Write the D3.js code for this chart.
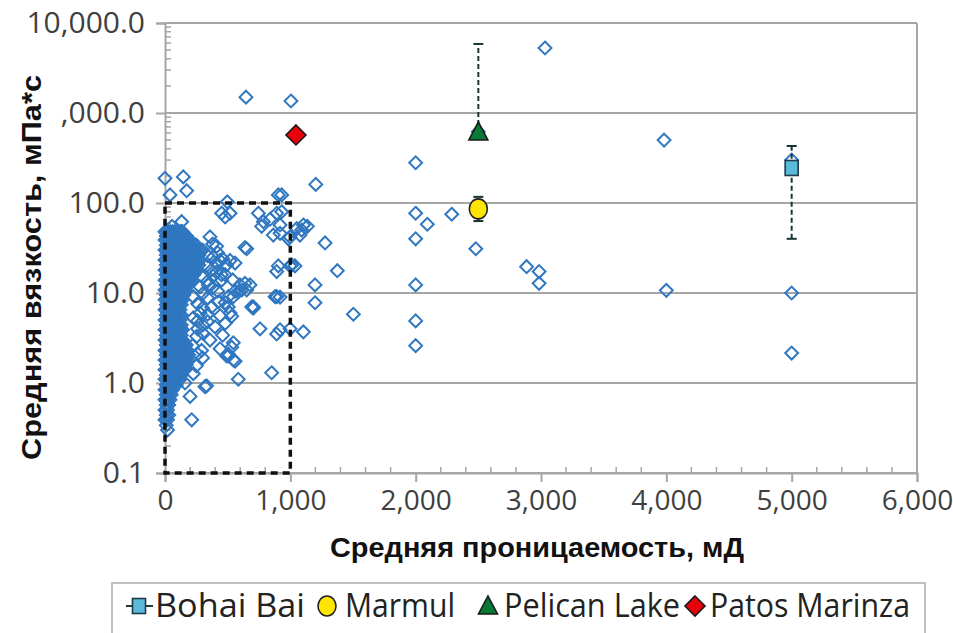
<!DOCTYPE html>
<html><head><meta charset="utf-8">
<script src="https://cdn.jsdelivr.net/npm/d3@7"></script>
<style>body{margin:0;background:#fff;overflow:hidden}</style>
</head><body>
<svg id="chart" width="953" height="633"></svg>
<script>
// ---------- DATA ----------
const xTickValues = [0, 1000, 2000, 3000, 4000, 5000, 6000];
const yTickValues = [0.1, 1, 10, 100, 1000, 10000];
const xTitle = "Средняя проницаемость, мД";
const yTitle = "Средняя вязкость, мПа*с";
const legendNames = ["Bohai Bai", "Marmul", "Pelican Lake", "Patos Marinza"];

// dense cluster near the origin: viscosity rows, each with the permeabilities read in that row
const clusterVisc = [48, 43, 38.8, 34, 30, 26.5, 23.3, 20.5, 18, 16, 13.9, 12.3, 10.8, 9.5, 8.4, 7.4, 6.5, 5.7, 5.0, 4.4,
  3.9, 3.4, 3.0, 2.65, 2.3, 2.05, 1.8, 1.6, 1.4, 1.23, 1.1, 0.95, 0.84, 0.74, 0.65, 0.57, 0.5, 0.44, 0.39, 0.34, 0.30];
const clusterPerm = [
  [0,20,40,60,80,100,120,140],
  [10,30,50,70,90,110,130,150,170],
  [0,20,40,60,80,100,120,140,160,180,200],
  [10,30,50,70,90,110,130,150,170,190,210,230,250],
  [0,20,40,60,80,100,120,140,160,180,200,220,240,260,280],
  [10,30,50,70,90,110,130,150,170,190,210,230,250,270],
  [0,20,40,60,80,100,120,140,160,180,200,220,240,260,280],
  [10,30,50,70,90,110,130,150,170,190,210,230,250,270],
  [0,20,40,60,80,100,120,140,160,180,200,220,240,260],
  [10,30,50,70,90,110,130,150,170,190,210,230],
  [0,20,40,60,80,100,120,140,160,180,200,220],
  [10,30,50,70,90,110,130,150,170,190],
  [0,20,40,60,80,100,120,140,160],
  [10,30,50,70,90,110,130,150],
  [0,20,40,60,80,100,120,140],
  [10,30,50,70,90,110,130],
  [0,20,40,60,80,100,120],
  [10,30,50,70,90,110,130],
  [0,20,40,60,80,100,120],
  [10,30,50,70,90,110,130],
  [0,20,40,60,80,100,120,140],
  [10,30,50,70,90,110,130],
  [0,20,40,60,80,100,120,140],
  [10,30,50,70,90,110,130,150,170],
  [0,20,40,60,80,100,120,140,160,180],
  [10,30,50,70,90,110,130,150,170,190],
  [0,20,40,60,80,100,120,140,160,180],
  [10,30,50,70,90,110,130,150,170],
  [0,20,40,60,80,100,120,140,160],
  [10,30,50,70,90,110,130],
  [0,20,40,60,80,100,120],
  [10,30,50,70,90],
  [0,20,40,60],
  [10,30,50],
  [0,20,40],
  [10,30],
  [0,20],
  [10,30],
  [0,20],
  [10],
  [20]
];

// scattered fields [permeability mD, viscosity mPa*s]
const fieldPoints = [
  [0,188],[146,195],[40,123],[173,137],[497,103],[904,123],[452,77],[519,77],[480,70],[745,77],[785,62],[838,66],
  [891,77],[771,55],[864,44],[918,57],[133,62],[133,48],[56,55],[359,42],[412,33],[385,25],[439,23],[519,23],
  [638,32],[652,31],[997,42],[1037,20],[904,20],
  [1203,161],[931,123],[931,80],[1136,55],[1077,44],[984,40],[918,46],[1277,36],[998,20],[1375,17.7],[1197,12.3],
  [1197,7.8],[918,9],[1503,5.8],[998,4.0],[1104,3.7],[918,3.9],[1091,50],[1051,52],[1104,57],[1011,20.5],[878,9.1],[891,17.3],
  [2000,280],[2000,77],[2093,58],[2288,75],[2000,40],[2480,31],[2885,19.6],[2985,17.3],[2985,12.8],[2000,12.3],
  [2000,4.9],[2000,2.6],[3032,5280],[3982,500],[4000,10.7],[5000,10],[5000,2.15],[5000,300],[2500,620],
  [646,1500],[1005,1360],
  [412,21.5],[492,20.5],[559,21.5],[385,15.5],[346,12.3],[452,13.9],[638,12.8],[585,10.3],[505,9.1],[692,7.0],
  [425,8.0],[519,6.0],[372,7.0],[279,6.0],[226,9.1],[279,11.7],[598,12.3],[652,10.8],[545,9.1],[891,9.1],[705,7.0],
  [758,4.0],[891,3.5],[399,4.2],[359,3.0],[439,2.4],[292,2.3],[505,2.0],[545,2.8],[253,3.3],[226,5.3],[492,2.0],
  [559,1.75],[226,1.27],[332,0.93],[585,1.1],[851,1.3],[160,1.0],[200,0.71],[213,0.39],[532,5.5],[505,7.0],
  [705,6.8],[612,10.8],[678,12.3],[532,2.5],[545,1.8],[505,2.1],[319,0.91],
  [300,30],[340,26],[380,35],[420,28],[460,24],[330,20],[370,18],[410,17],[450,16],[300,15],[340,13.5],[380,11.5],
  [420,10.5],[300,9.8],[340,8.8],[260,7.6],[300,6.8],[340,5.8],[260,4.9],[300,4.4],[340,4.8],[260,4.0],[300,3.6],
  [220,2.6],[260,2.1],[300,1.9],[250,1.55],[480,16],[540,14],[560,10.5],[480,7.8],[440,5.6],[480,4.6],[460,3.4]
];

// named fields: permeability, viscosity, error low, error high
const bohaiBai = {perm: 5000, visc: 245, low: 40, high: 430};
const marmul = {perm: 2500, visc: 86, low: 63, high: 117};
const pelicanLake = {perm: 2500, visc: 600, low: 600, high: 5850};
const patosMarinza = {perm: 1045, visc: 570};

// ---------- CHART ----------
const svg = d3.select("#chart");
const mLeft = 165, mRight = 917, mTop = 23, mBottom = 473;
const x = d3.scaleLinear().domain([0, 6000]).range([mLeft, mRight]);
const y = d3.scaleLog().domain([0.1, 10000]).range([mBottom, mTop]);

const gridColor = "#a6a6a6";
const tickFont = "'Open Sans', sans-serif";

// gridlines
svg.append("g").selectAll("line").data(yTickValues).join("line")
  .attr("x1", mLeft).attr("x2", mRight).attr("y1", d => y(d)).attr("y2", d => y(d))
  .attr("stroke", gridColor).attr("stroke-width", 2);
svg.append("line").attr("x1", mRight).attr("x2", mRight).attr("y1", mTop).attr("y2", mBottom)
  .attr("stroke", gridColor).attr("stroke-width", 2);

// minor ticks
const yMinor = [];
[0.1, 1, 10, 100, 1000].forEach(d => { for (let k = 2; k <= 9; k++) yMinor.push(d * k); });
svg.append("g").selectAll("line").data(yMinor).join("line")
  .attr("x1", mLeft).attr("x2", mLeft + 6).attr("y1", d => y(d)).attr("y2", d => y(d))
  .attr("stroke", gridColor).attr("stroke-width", 1.5);
const xMinor = d3.range(200, 6000, 200).filter(v => v % 1000 !== 0);
svg.append("g").selectAll("line").data(xMinor).join("line")
  .attr("x1", d => x(d)).attr("x2", d => x(d)).attr("y1", mBottom).attr("y2", mBottom - 6)
  .attr("stroke", gridColor).attr("stroke-width", 1.5);

// axes
const xAxis = svg.append("g").attr("transform", `translate(0,${mBottom})`)
  .call(d3.axisBottom(x).tickValues(xTickValues).tickFormat(d3.format(",")).tickSizeOuter(0).tickSize(9).tickPadding(8));
const yAxis = svg.append("g").attr("transform", `translate(${mLeft},0)`)
  .call(d3.axisLeft(y).tickValues(yTickValues).tickFormat(d3.format(",.1f")).tickSizeOuter(0).tickSize(9).tickPadding(11));
[xAxis, yAxis].forEach(a => {
  a.select(".domain").attr("stroke", gridColor).attr("stroke-width", 2);
  a.selectAll(".tick line").attr("stroke", gridColor).attr("stroke-width", 2);
  a.selectAll(".tick text").attr("fill", "#3f3f3f").attr("font-family", tickFont).attr("font-size", 30);
});
xAxis.selectAll(".tick text").attr("font-size", 28);

// diamonds
const diamond = d3.symbol().type(d3.symbolDiamond2).size(105)();
const clusterPoints = [];
clusterVisc.forEach((v, i) => clusterPerm[i].forEach(p => clusterPoints.push([p, v])));
const allPoints = clusterPoints.concat(fieldPoints);
svg.append("g").selectAll("path").data(allPoints).join("path")
  .attr("d", diamond)
  .attr("transform", d => `translate(${x(d[0])},${y(d[1])})`)
  .attr("fill", "none").attr("stroke", "#2f77c0").attr("stroke-width", 2);

// dashed box 0..1000 mD, 0.1..100 mPa*s
svg.append("rect").attr("x", x(0)).attr("y", y(100))
  .attr("width", x(1000) - x(0)).attr("height", y(0.1) - y(100))
  .attr("fill", "none").attr("stroke", "#111").attr("stroke-width", 3.5).attr("stroke-dasharray", "7,5");

// error bars
function errBar(f) {
  const g = svg.append("g");
  g.append("line").attr("x1", x(f.perm)).attr("x2", x(f.perm)).attr("y1", y(f.low)).attr("y2", y(f.high))
    .attr("stroke", "#1b3535").attr("stroke-width", 2).attr("stroke-dasharray", "5,3");
  [f.low, f.high].forEach(v => {
    if (v === f.visc) return;
    g.append("line").attr("x1", x(f.perm) - 5).attr("x2", x(f.perm) + 5).attr("y1", y(v)).attr("y2", y(v))
      .attr("stroke", "#1b3535").attr("stroke-width", 2);
  });
}
[bohaiBai, marmul, pelicanLake].forEach(errBar);

// special markers
function square(g, cx, cy) {
  g.append("rect").attr("x", cx - 6.5).attr("y", cy - 7.5).attr("width", 13).attr("height", 15)
    .attr("fill", "#5bbad8").attr("stroke", "#1f3a4a").attr("stroke-width", 1.6);
}
function circle(g, cx, cy) {
  g.append("ellipse").attr("cx", cx).attr("cy", cy).attr("rx", 9).attr("ry", 10)
    .attr("fill", "#ffe600").attr("stroke", "#222").attr("stroke-width", 1.6);
}
function triangle(g, cx, cy) {
  g.append("path").attr("d", `M${cx},${cy - 11}L${cx + 9.5},${cy + 7}L${cx - 9.5},${cy + 7}Z`)
    .attr("fill", "#087a35").attr("stroke", "#1a1a1a").attr("stroke-width", 1.6);
}
function redDiamond(g, cx, cy) {
  g.append("path").attr("d", `M${cx},${cy - 10}L${cx + 10},${cy}L${cx},${cy + 10}L${cx - 10},${cy}Z`)
    .attr("fill", "#e8000b").attr("stroke", "#1a1a1a").attr("stroke-width", 1.6);
}
const mk = svg.append("g");
square(mk, x(bohaiBai.perm), y(bohaiBai.visc));
circle(mk, x(marmul.perm), y(marmul.visc));
triangle(mk, x(pelicanLake.perm), y(pelicanLake.visc));
redDiamond(mk, x(patosMarinza.perm), y(patosMarinza.visc));

// y title box (white) – it hides the leading digit of the 1,000.0 label, as in the original
svg.append("rect").attr("x", 0).attr("y", 62).attr("width", 50).attr("height", 405).attr("fill", "#fff");
yAxis.selectAll(".tick").filter(d => d === 1000).each(function () {
  const t = d3.select(this).select("text").node();
  const c0 = t.getExtentOfChar(0), c1 = t.getExtentOfChar(1);
  d3.select(this).append("rect").attr("x", c0.x - 3).attr("y", c0.y)
    .attr("width", c1.x - c0.x + 2).attr("height", c0.height).attr("fill", "#fff");
});
svg.append("text").attr("transform", `translate(41,${(75 + 460) / 2}) rotate(-90)`)
  .attr("text-anchor", "middle").attr("font-family", "'Liberation Sans', Arial, sans-serif")
  .attr("font-weight", "bold").attr("font-size", 28).attr("fill", "#111")
  .attr("textLength", 385).attr("lengthAdjust", "spacingAndGlyphs").text(yTitle);

// x title
svg.append("text").attr("x", (mLeft + mRight) / 2 - 4).attr("y", 557)
  .attr("text-anchor", "middle").attr("font-family", "'Liberation Sans', Arial, sans-serif")
  .attr("font-weight", "bold").attr("font-size", 27).attr("fill", "#111")
  .attr("textLength", 414).attr("lengthAdjust", "spacingAndGlyphs").text(xTitle);

// legend
const lg = svg.append("g");
lg.append("rect").attr("x", 112).attr("y", 583).attr("width", 813).attr("height", 70)
  .attr("fill", "#fff").attr("stroke", "#bfbfbf").attr("stroke-width", 2);
const ly = 606;
lg.append("line").attr("x1", 126).attr("x2", 153).attr("y1", ly).attr("y2", ly).attr("stroke", "#1e3b3b").attr("stroke-width", 2);
square(lg, 139, ly);
circle(lg, 327, ly);
triangle(lg, 488, ly + 1);
redDiamond(lg, 695, ly);
const legendX = [155, 345, 504, 710];
const legendW = [150, 110, 176, 200];
lg.selectAll("text.lt").data(legendNames).join("text").attr("class", "lt")
  .attr("x", (d, i) => legendX[i]).attr("y", 617)
  .attr("font-family", "'Open Sans', sans-serif").attr("font-size", 32).attr("fill", "#222")
  .attr("textLength", (d, i) => legendW[i]).attr("lengthAdjust", "spacingAndGlyphs")
  .text(d => d);
</script>
</body></html>
